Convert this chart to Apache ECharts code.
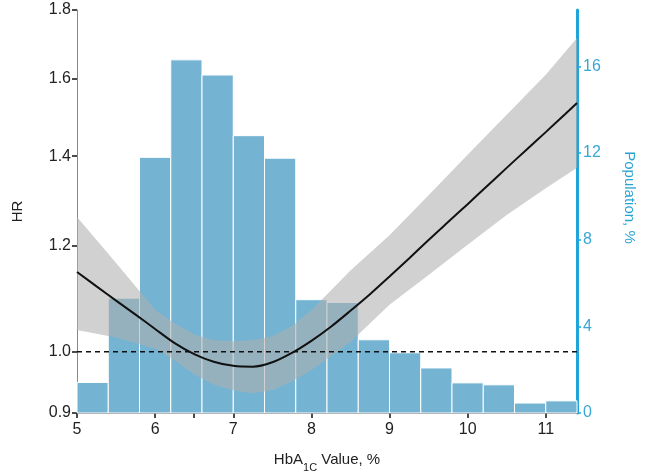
<!DOCTYPE html>
<html>
<head>
<meta charset="utf-8">
<script src="https://cdn.jsdelivr.net/npm/echarts@6/dist/echarts.min.js"></script>
<style>html,body{margin:0;padding:0;background:#fff}#c{width:655px;height:472px}</style>
</head>
<body>
<div id="c"></div>
<script>
// Histogram: population share by HbA1c bin (bin width 0.4)
const binStart = [5.0, 5.4, 5.8, 6.2, 6.6, 7.0, 7.4, 7.8, 8.2, 8.6, 9.0, 9.4, 9.8, 10.2, 10.6, 11.0];
const binWidth = 0.4;
const population = [1.41, 5.3, 11.8, 16.3, 15.6, 12.8, 11.76, 5.23, 5.1, 3.38, 2.78, 2.08, 1.39, 1.30, 0.46, 0.56];

// Hazard ratio curve
const hrX = [5.0, 5.25, 5.5, 5.75, 6.0, 6.25, 6.5, 6.75, 7.0, 7.25, 7.5, 7.75, 8.0, 8.25, 8.5, 8.75,
             9.0, 9.25, 9.5, 9.75, 10.0, 10.25, 10.5, 10.75, 11.0, 11.25, 11.4];
const hr  = [1.147, 1.119, 1.092, 1.066, 1.040, 1.015, 0.996, 0.983, 0.976, 0.9745, 0.982, 0.998, 1.019, 1.044, 1.073, 1.104,
             1.138, 1.174, 1.212, 1.250, 1.289, 1.330, 1.372, 1.415, 1.459, 1.505, 1.534];

// Confidence band
const ciX   = [5.0, 5.5, 6.0, 6.25, 6.5, 6.75, 7.0, 7.25, 7.5, 7.75, 8.0, 8.5, 9.0, 9.5, 10.0, 10.5, 11.0, 11.4];
const lower = [1.038, 1.025, 1.005, 0.985, 0.962, 0.945, 0.936, 0.931, 0.936, 0.950, 0.969, 1.017, 1.084, 1.141, 1.202, 1.265, 1.325, 1.372];
const upper = [1.261, 1.165, 1.075, 1.050, 1.030, 1.020, 1.018, 1.020, 1.027, 1.045, 1.074, 1.150, 1.222, 1.309, 1.403, 1.503, 1.610, 1.715];

const hrTicks = [0.9, 1.0, 1.2, 1.4, 1.6, 1.8];
const xTickValues = [5, 6, 6.5, 7, 8, 9, 10, 11];
const xLabelValues = [5, 6, 7, 8, 9, 10, 11];
const popTicks = [0, 4, 8, 12, 16];

const L = Math.log;
const FONT = 'Liberation Sans';
const BLUE = '#1fa5da';

const chart = echarts.init(document.getElementById('c'), null, {renderer: 'canvas'});
chart.setOption({
  animation: false,
  backgroundColor: '#fff',
  grid: {left: 77, right: 78, top: 10, bottom: 59, containLabel: false, outerBoundsMode: 'none'},
  xAxis: {
    type: 'value', min: 5, max: 11.4,
    name: '{a|HbA}{s|1C}{a| Value, %}',
    nameLocation: 'middle', nameGap: 39,
    nameTextStyle: {rich: {
      a: {fontFamily: FONT, fontSize: 15, color: '#222'},
      s: {fontFamily: FONT, fontSize: 11, color: '#222', verticalAlign: 'bottom', padding: [0, 0, -6, 0]}
    }},
    axisLine: {show: true, onZero: false, lineStyle: {color: '#6e6e6e', width: 2}},
    axisTick: {show: true, length: 5, inside: false, customValues: xTickValues, lineStyle: {color: '#111', width: 1.5}},
    axisLabel: {customValues: xLabelValues, fontFamily: FONT, fontSize: 16, color: '#222', margin: 9},
    splitLine: {show: false}
  },
  yAxis: [{
    type: 'value', min: L(0.9), max: L(1.8), position: 'left',
    name: 'HR', nameLocation: 'middle', nameGap: 52,
    nameTextStyle: {fontFamily: FONT, fontSize: 15, color: '#222'},
    axisLine: {show: true, lineStyle: {color: '#888', width: 1}},
    axisTick: {show: true, length: 5, customValues: hrTicks.map(L), lineStyle: {color: '#111', width: 1.5}},
    axisLabel: {customValues: hrTicks.map(L), fontFamily: FONT, fontSize: 16, color: '#222', margin: 6,
      formatter: v => Math.exp(v).toFixed(1)},
    splitLine: {show: false}
  }, {
    type: 'value', min: 0, max: 18.6, position: 'right',
    name: 'Population, %', nameLocation: 'middle', nameGap: 45, nameRotate: -90,
    nameMoveOverlap: false,
    nameTextStyle: {fontFamily: FONT, fontSize: 15, color: '#2aa4d3', padding: [0, 28, 0, 0]},
    axisLine: {show: true, lineStyle: {color: BLUE, width: 3}},
    axisTick: {show: true, length: 4, customValues: popTicks, lineStyle: {color: BLUE, width: 1.5}},
    axisLabel: {customValues: popTicks, fontFamily: FONT, fontSize: 16, color: '#3aa6d3', margin: 6},
    splitLine: {show: false}
  }],
  series: [
    {
      type: 'custom', yAxisIndex: 1, z: 1,
      data: binStart.map((s, i) => [s, population[i]]),
      renderItem: (params, api) => {
        const x0 = api.value(0), v = api.value(1);
        const p0 = api.coord([x0, v]);
        const p1 = api.coord([x0 + binWidth, 0]);
        return {type: 'rect', shape: {x: p0[0], y: p0[1], width: p1[0] - p0[0], height: p1[1] - p0[1]},
          style: {fill: '#74b4d2', stroke: '#ffffff', lineWidth: 1}};
      }
    },
    {
      type: 'custom', z: 2, silent: true,
      data: [[0]],
      renderItem: (params, api) => {
        const pts = [];
        ciX.forEach((x, i) => pts.push(api.coord([x, L(upper[i])])));
        for (let i = ciX.length - 1; i >= 0; i--) pts.push(api.coord([ciX[i], L(lower[i])]));
        return {type: 'polygon', shape: {points: pts},
          style: {fill: 'rgba(175,175,175,0.58)'}};
      }
    },
    {
      type: 'line', z: 3, symbol: 'none', silent: true,
      data: [[5, 0], [11.4, 0]],
      lineStyle: {color: '#111', width: 1.3, type: [5, 4]}
    },
    {
      type: 'line', z: 4, symbol: 'none', silent: true, smooth: 0.3,
      data: hrX.map((x, i) => [x, L(hr[i])]),
      lineStyle: {color: '#111', width: 2}
    }
  ]
});
</script>
</body>
</html>
